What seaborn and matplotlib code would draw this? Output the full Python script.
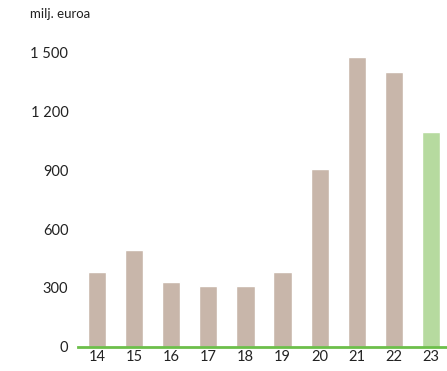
import matplotlib
matplotlib.use("Agg")
import matplotlib.pyplot as plt
import seaborn as sns
import pandas as pd

# Data
years = ['14', '15', '16', '17', '18', '19', '20', '21', '22', '23']
values = [381, 493, 330, 310, 310, 381, 905, 1474, 1398, 1093]
bar_colors = ['#c8b6aa'] * 9 + ['#b6da9f']
y_ticks = [0, 300, 600, 900, 1200, 1500]
y_tick_labels = ['0', '300', '600', '900', '1 200', '1 500']

sns.set_style('white')
plt.rcParams['font.family'] = ['Lato', 'DejaVu Sans']

df = pd.DataFrame({'year': years, 'value': values})

fig = plt.figure(figsize=(4.47, 3.71), dpi=100)
ax = fig.add_axes([0.1745, 0.0647, 0.8255, 0.7951])

sns.barplot(data=df, x='year', y='value', hue='year', palette=bar_colors,
            legend=False, width=0.49, saturation=1, ax=ax)

ax.set_xlim(-0.51, 9.43)
ax.set_ylim(0, 1500)
ax.set_yticks(y_ticks)
ax.set_yticklabels(y_tick_labels)
ax.set_xlabel('')
ax.set_ylabel('')
ax.tick_params(axis='both', length=0, labelsize=10.5, colors='#222222')
ax.tick_params(axis='y', pad=7)
ax.tick_params(axis='x', pad=2)

for side in ['top', 'right', 'left']:
    ax.spines[side].set_visible(False)
ax.spines['bottom'].set_color('#6cbf4a')
ax.spines['bottom'].set_linewidth(2)
ax.spines['bottom'].set_zorder(5)

fig.text(0.067, 0.962, 'milj. euroa', fontsize=9.5, color='#222222', va='center')

fig.savefig('out.png', dpi=100)
